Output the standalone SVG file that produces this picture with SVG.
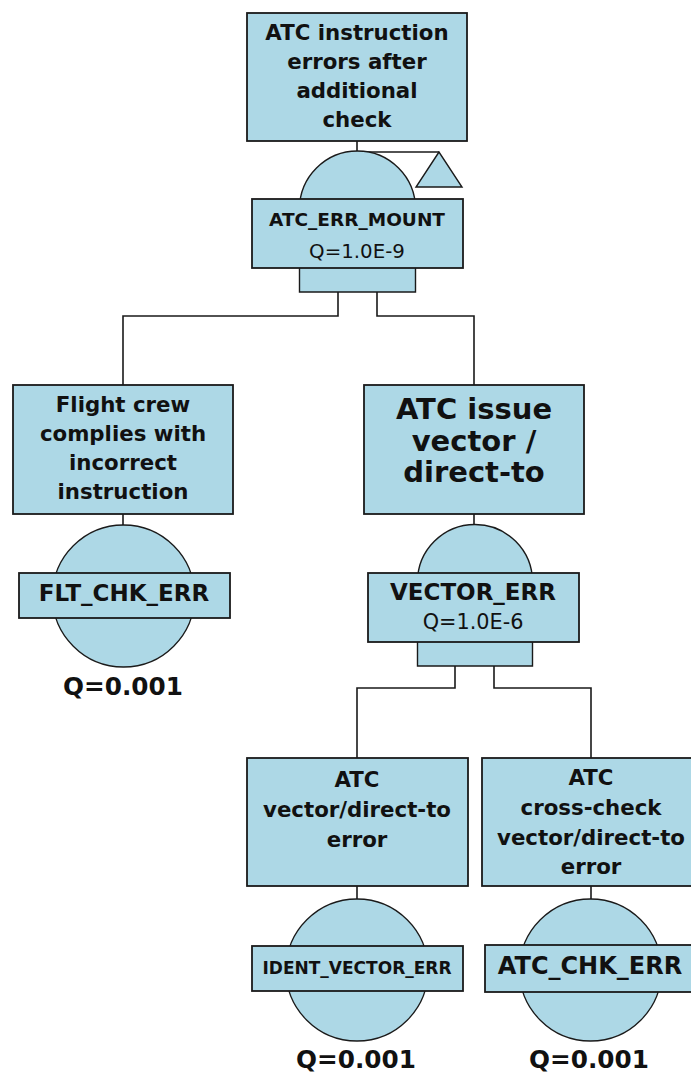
<svg xmlns="http://www.w3.org/2000/svg" width="691" height="1075" viewBox="0 0 691 1075">
<style>
.box{fill:#add8e6;stroke:#1a1a1a;stroke-width:1.8}
.gate{fill:#add8e6;stroke:#1a1a1a;stroke-width:1.4}
.ev{fill:#add8e6;stroke:#1a1a1a;stroke-width:1.3}
.lbl{fill:#add8e6;stroke:#1a1a1a;stroke-width:1.8}
.con{fill:none;stroke:#1a1a1a;stroke-width:1.6}
text{font-family:"DejaVu Sans","Liberation Sans",sans-serif;fill:#111;text-anchor:middle}
.t{font-size:21.3px;font-weight:bold}
.tb{font-size:29px;font-weight:bold}
.g{font-weight:bold}
.q{font-size:20.8px}
.qe{font-size:24.7px;font-weight:bold}
</style>
<rect width="691" height="1075" fill="#fff"/>
<g id="connectors">
<path class="con" d="M357,141 V152 H439"/>
<path class="con" d="M338,292 V316 H123 V385"/>
<path class="con" d="M377,292 V316 H474 V385"/>
<path class="con" d="M123,514 V525"/>
<path class="con" d="M474,514 V525"/>
<path class="con" d="M455,666 V688 H357 V758"/>
<path class="con" d="M494,666 V688 H591 V758"/>
<path class="con" d="M357,886 V899"/>
<path class="con" d="M591,886 V899"/>
</g>
<g id="top_event">
<rect class="box" x="247" y="13" width="220" height="128"/>
<text class="t" x="357" y="40">ATC instruction</text>
<text class="t" x="357" y="69">errors after</text>
<text class="t" x="357" y="98">additional</text>
<text class="t" x="357" y="127">check</text>
</g>
<g id="gate_ATC_ERR_MOUNT">
<path class="gate" d="M299.5,292 V209 A58,58 0 0 1 415.5,209 V292 Z"/>
<polygon class="gate" points="439,152 416,187 462,187"/>
<rect class="lbl" x="252" y="199" width="211" height="69"/>
<text class="g" x="357" y="226" style="font-size:18.5px">ATC_ERR_MOUNT</text>
<text class="q" x="357" y="258" style="font-size:19.8px">Q=1.0E-9</text>
</g>
<g id="flight_crew">
<rect class="box" x="13" y="385" width="220" height="129"/>
<text class="t" x="123" y="412">Flight crew</text>
<text class="t" x="123" y="441">complies with</text>
<text class="t" x="123" y="470">incorrect</text>
<text class="t" x="123" y="499">instruction</text>
</g>
<g id="event_FLT_CHK_ERR">
<circle class="ev" cx="123.5" cy="596" r="71"/>
<rect class="lbl" x="19" y="573" width="211" height="45"/>
<text class="g" x="124" y="601" style="font-size:23px">FLT_CHK_ERR</text>
<text class="qe" x="123" y="695">Q=0.001</text>
</g>
<g id="atc_issue">
<rect class="box" x="364" y="385" width="220" height="129"/>
<text class="tb" x="474" y="419">ATC issue</text>
<text class="tb" x="474" y="451">vector /</text>
<text class="tb" x="474" y="482">direct-to</text>
</g>
<g id="gate_VECTOR_ERR">
<path class="gate" d="M417.5,666 V582 A57.5,57.5 0 0 1 532.5,582 V666 Z"/>
<rect class="lbl" x="368" y="573" width="211" height="69"/>
<text class="g" x="473" y="600" style="font-size:23px">VECTOR_ERR</text>
<text class="q" x="473" y="629">Q=1.0E-6</text>
</g>
<g id="atc_vector">
<rect class="box" x="247" y="758" width="221" height="128"/>
<text class="t" x="357" y="787">ATC</text>
<text class="t" x="357" y="817">vector/direct-to</text>
<text class="t" x="357" y="847">error</text>
</g>
<g id="event_IDENT_VECTOR_ERR">
<circle class="ev" cx="357" cy="970" r="71"/>
<rect class="lbl" x="252" y="946" width="211" height="45"/>
<text class="g" x="357" y="974" style="font-size:17px">IDENT_VECTOR_ERR</text>
<text class="qe" x="356" y="1068">Q=0.001</text>
</g>
<g id="atc_crosscheck">
<rect class="box" x="482" y="758" width="221" height="128"/>
<text class="t" x="591" y="785">ATC</text>
<text class="t" x="591" y="815">cross-check</text>
<text class="t" x="591" y="845">vector/direct-to</text>
<text class="t" x="591" y="874">error</text>
</g>
<g id="event_ATC_CHK_ERR">
<circle class="ev" cx="590.5" cy="970" r="71"/>
<rect class="lbl" x="485" y="945" width="211" height="47"/>
<text class="g" x="590" y="974" style="font-size:24px">ATC_CHK_ERR</text>
<text class="qe" x="589" y="1068">Q=0.001</text>
</g>
</svg>
